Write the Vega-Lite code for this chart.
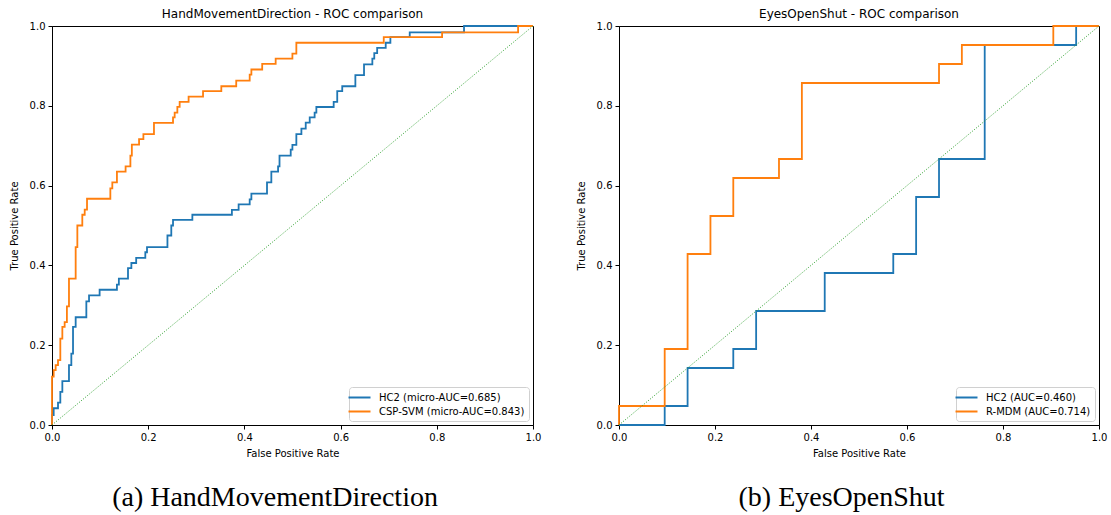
{
  "$schema": "https://vega.github.io/schema/vega-lite/v6.json",
  "padding": {"left": 8, "top": 7, "right": 5, "bottom": 0},
  "background": "#ffffff",
  "datasets": {
    "hmd": [
      {"model": "HC2 (micro-AUC=0.685)", "fpr": 0, "tpr": 0},
      {"model": "HC2 (micro-AUC=0.685)", "fpr": 0, "tpr": 0.025},
      {"model": "HC2 (micro-AUC=0.685)", "fpr": 0.0035, "tpr": 0.042},
      {"model": "HC2 (micro-AUC=0.685)", "fpr": 0.0125, "tpr": 0.056},
      {"model": "HC2 (micro-AUC=0.685)", "fpr": 0.0173, "tpr": 0.083},
      {"model": "HC2 (micro-AUC=0.685)", "fpr": 0.0215, "tpr": 0.11},
      {"model": "HC2 (micro-AUC=0.685)", "fpr": 0.0353, "tpr": 0.15},
      {"model": "HC2 (micro-AUC=0.685)", "fpr": 0.0402, "tpr": 0.179},
      {"model": "HC2 (micro-AUC=0.685)", "fpr": 0.0437, "tpr": 0.246},
      {"model": "HC2 (micro-AUC=0.685)", "fpr": 0.0492, "tpr": 0.27},
      {"model": "HC2 (micro-AUC=0.685)", "fpr": 0.0714, "tpr": 0.31},
      {"model": "HC2 (micro-AUC=0.685)", "fpr": 0.077, "tpr": 0.325},
      {"model": "HC2 (micro-AUC=0.685)", "fpr": 0.099, "tpr": 0.339},
      {"model": "HC2 (micro-AUC=0.685)", "fpr": 0.135, "tpr": 0.352},
      {"model": "HC2 (micro-AUC=0.685)", "fpr": 0.139, "tpr": 0.367},
      {"model": "HC2 (micro-AUC=0.685)", "fpr": 0.158, "tpr": 0.393},
      {"model": "HC2 (micro-AUC=0.685)", "fpr": 0.165, "tpr": 0.406},
      {"model": "HC2 (micro-AUC=0.685)", "fpr": 0.175, "tpr": 0.419},
      {"model": "HC2 (micro-AUC=0.685)", "fpr": 0.194, "tpr": 0.433},
      {"model": "HC2 (micro-AUC=0.685)", "fpr": 0.1975, "tpr": 0.446},
      {"model": "HC2 (micro-AUC=0.685)", "fpr": 0.24, "tpr": 0.475},
      {"model": "HC2 (micro-AUC=0.685)", "fpr": 0.248, "tpr": 0.5},
      {"model": "HC2 (micro-AUC=0.685)", "fpr": 0.2516, "tpr": 0.514},
      {"model": "HC2 (micro-AUC=0.685)", "fpr": 0.2918, "tpr": 0.527},
      {"model": "HC2 (micro-AUC=0.685)", "fpr": 0.374, "tpr": 0.539},
      {"model": "HC2 (micro-AUC=0.685)", "fpr": 0.388, "tpr": 0.553},
      {"model": "HC2 (micro-AUC=0.685)", "fpr": 0.411, "tpr": 0.5655},
      {"model": "HC2 (micro-AUC=0.685)", "fpr": 0.4145, "tpr": 0.58},
      {"model": "HC2 (micro-AUC=0.685)", "fpr": 0.447, "tpr": 0.608},
      {"model": "HC2 (micro-AUC=0.685)", "fpr": 0.456, "tpr": 0.635},
      {"model": "HC2 (micro-AUC=0.685)", "fpr": 0.47, "tpr": 0.648},
      {"model": "HC2 (micro-AUC=0.685)", "fpr": 0.473, "tpr": 0.675},
      {"model": "HC2 (micro-AUC=0.685)", "fpr": 0.4963, "tpr": 0.69},
      {"model": "HC2 (micro-AUC=0.685)", "fpr": 0.4998, "tpr": 0.702},
      {"model": "HC2 (micro-AUC=0.685)", "fpr": 0.508, "tpr": 0.729},
      {"model": "HC2 (micro-AUC=0.685)", "fpr": 0.5185, "tpr": 0.743},
      {"model": "HC2 (micro-AUC=0.685)", "fpr": 0.5275, "tpr": 0.758},
      {"model": "HC2 (micro-AUC=0.685)", "fpr": 0.5358, "tpr": 0.771},
      {"model": "HC2 (micro-AUC=0.685)", "fpr": 0.546, "tpr": 0.783},
      {"model": "HC2 (micro-AUC=0.685)", "fpr": 0.5496, "tpr": 0.797},
      {"model": "HC2 (micro-AUC=0.685)", "fpr": 0.5856, "tpr": 0.81},
      {"model": "HC2 (micro-AUC=0.685)", "fpr": 0.593, "tpr": 0.837},
      {"model": "HC2 (micro-AUC=0.685)", "fpr": 0.6034, "tpr": 0.849},
      {"model": "HC2 (micro-AUC=0.685)", "fpr": 0.6307, "tpr": 0.877},
      {"model": "HC2 (micro-AUC=0.685)", "fpr": 0.6487, "tpr": 0.904},
      {"model": "HC2 (micro-AUC=0.685)", "fpr": 0.666, "tpr": 0.918},
      {"model": "HC2 (micro-AUC=0.685)", "fpr": 0.67, "tpr": 0.932},
      {"model": "HC2 (micro-AUC=0.685)", "fpr": 0.676, "tpr": 0.945},
      {"model": "HC2 (micro-AUC=0.685)", "fpr": 0.6938, "tpr": 0.958},
      {"model": "HC2 (micro-AUC=0.685)", "fpr": 0.7035, "tpr": 0.972},
      {"model": "HC2 (micro-AUC=0.685)", "fpr": 0.7437, "tpr": 0.984},
      {"model": "HC2 (micro-AUC=0.685)", "fpr": 0.8566, "tpr": 1.0},
      {"model": "HC2 (micro-AUC=0.685)", "fpr": 1, "tpr": 1.0},
      {"model": "CSP-SVM (micro-AUC=0.843)", "fpr": 0, "tpr": 0},
      {"model": "CSP-SVM (micro-AUC=0.843)", "fpr": 0, "tpr": 0.121},
      {"model": "CSP-SVM (micro-AUC=0.843)", "fpr": 0.0035, "tpr": 0.1375},
      {"model": "CSP-SVM (micro-AUC=0.843)", "fpr": 0.0076, "tpr": 0.15},
      {"model": "CSP-SVM (micro-AUC=0.843)", "fpr": 0.0125, "tpr": 0.1625},
      {"model": "CSP-SVM (micro-AUC=0.843)", "fpr": 0.0173, "tpr": 0.2167},
      {"model": "CSP-SVM (micro-AUC=0.843)", "fpr": 0.0215, "tpr": 0.246},
      {"model": "CSP-SVM (micro-AUC=0.843)", "fpr": 0.0263, "tpr": 0.258},
      {"model": "CSP-SVM (micro-AUC=0.843)", "fpr": 0.031, "tpr": 0.2975},
      {"model": "CSP-SVM (micro-AUC=0.843)", "fpr": 0.0353, "tpr": 0.367},
      {"model": "CSP-SVM (micro-AUC=0.843)", "fpr": 0.0492, "tpr": 0.446},
      {"model": "CSP-SVM (micro-AUC=0.843)", "fpr": 0.0527, "tpr": 0.5},
      {"model": "CSP-SVM (micro-AUC=0.843)", "fpr": 0.063, "tpr": 0.527},
      {"model": "CSP-SVM (micro-AUC=0.843)", "fpr": 0.068, "tpr": 0.54},
      {"model": "CSP-SVM (micro-AUC=0.843)", "fpr": 0.0728, "tpr": 0.567},
      {"model": "CSP-SVM (micro-AUC=0.843)", "fpr": 0.1213, "tpr": 0.593},
      {"model": "CSP-SVM (micro-AUC=0.843)", "fpr": 0.1254, "tpr": 0.608},
      {"model": "CSP-SVM (micro-AUC=0.843)", "fpr": 0.135, "tpr": 0.635},
      {"model": "CSP-SVM (micro-AUC=0.843)", "fpr": 0.153, "tpr": 0.648},
      {"model": "CSP-SVM (micro-AUC=0.843)", "fpr": 0.163, "tpr": 0.675},
      {"model": "CSP-SVM (micro-AUC=0.843)", "fpr": 0.166, "tpr": 0.7025},
      {"model": "CSP-SVM (micro-AUC=0.843)", "fpr": 0.181, "tpr": 0.7167},
      {"model": "CSP-SVM (micro-AUC=0.843)", "fpr": 0.19, "tpr": 0.729},
      {"model": "CSP-SVM (micro-AUC=0.843)", "fpr": 0.212, "tpr": 0.757},
      {"model": "CSP-SVM (micro-AUC=0.843)", "fpr": 0.2516, "tpr": 0.771},
      {"model": "CSP-SVM (micro-AUC=0.843)", "fpr": 0.255, "tpr": 0.783},
      {"model": "CSP-SVM (micro-AUC=0.843)", "fpr": 0.2606, "tpr": 0.7975},
      {"model": "CSP-SVM (micro-AUC=0.843)", "fpr": 0.2654, "tpr": 0.81},
      {"model": "CSP-SVM (micro-AUC=0.843)", "fpr": 0.284, "tpr": 0.823},
      {"model": "CSP-SVM (micro-AUC=0.843)", "fpr": 0.314, "tpr": 0.837},
      {"model": "CSP-SVM (micro-AUC=0.843)", "fpr": 0.352, "tpr": 0.849},
      {"model": "CSP-SVM (micro-AUC=0.843)", "fpr": 0.383, "tpr": 0.863},
      {"model": "CSP-SVM (micro-AUC=0.843)", "fpr": 0.411, "tpr": 0.878},
      {"model": "CSP-SVM (micro-AUC=0.843)", "fpr": 0.4145, "tpr": 0.891},
      {"model": "CSP-SVM (micro-AUC=0.843)", "fpr": 0.437, "tpr": 0.905},
      {"model": "CSP-SVM (micro-AUC=0.843)", "fpr": 0.465, "tpr": 0.918},
      {"model": "CSP-SVM (micro-AUC=0.843)", "fpr": 0.4998, "tpr": 0.931},
      {"model": "CSP-SVM (micro-AUC=0.843)", "fpr": 0.508, "tpr": 0.958},
      {"model": "CSP-SVM (micro-AUC=0.843)", "fpr": 0.6897, "tpr": 0.972},
      {"model": "CSP-SVM (micro-AUC=0.843)", "fpr": 0.811, "tpr": 0.984},
      {"model": "CSP-SVM (micro-AUC=0.843)", "fpr": 0.969, "tpr": 1.0},
      {"model": "CSP-SVM (micro-AUC=0.843)", "fpr": 1, "tpr": 1.0}
    ],
    "eos": [
      {"model": "HC2 (AUC=0.460)", "fpr": 0, "tpr": 0},
      {"model": "HC2 (AUC=0.460)", "fpr": 0.0952, "tpr": 0.0476},
      {"model": "HC2 (AUC=0.460)", "fpr": 0.1429, "tpr": 0.1429},
      {"model": "HC2 (AUC=0.460)", "fpr": 0.2381, "tpr": 0.1905},
      {"model": "HC2 (AUC=0.460)", "fpr": 0.2857, "tpr": 0.2857},
      {"model": "HC2 (AUC=0.460)", "fpr": 0.4286, "tpr": 0.381},
      {"model": "HC2 (AUC=0.460)", "fpr": 0.5714, "tpr": 0.4286},
      {"model": "HC2 (AUC=0.460)", "fpr": 0.619, "tpr": 0.5714},
      {"model": "HC2 (AUC=0.460)", "fpr": 0.6667, "tpr": 0.6667},
      {"model": "HC2 (AUC=0.460)", "fpr": 0.7619, "tpr": 0.9524},
      {"model": "HC2 (AUC=0.460)", "fpr": 0.9524, "tpr": 1.0},
      {"model": "HC2 (AUC=0.460)", "fpr": 1, "tpr": 1.0},
      {"model": "R-MDM (AUC=0.714)", "fpr": 0, "tpr": 0},
      {"model": "R-MDM (AUC=0.714)", "fpr": 0, "tpr": 0.0476},
      {"model": "R-MDM (AUC=0.714)", "fpr": 0.0952, "tpr": 0.1905},
      {"model": "R-MDM (AUC=0.714)", "fpr": 0.1429, "tpr": 0.4286},
      {"model": "R-MDM (AUC=0.714)", "fpr": 0.1905, "tpr": 0.5238},
      {"model": "R-MDM (AUC=0.714)", "fpr": 0.2381, "tpr": 0.619},
      {"model": "R-MDM (AUC=0.714)", "fpr": 0.3333, "tpr": 0.6667},
      {"model": "R-MDM (AUC=0.714)", "fpr": 0.381, "tpr": 0.8571},
      {"model": "R-MDM (AUC=0.714)", "fpr": 0.6667, "tpr": 0.9048},
      {"model": "R-MDM (AUC=0.714)", "fpr": 0.7143, "tpr": 0.9524},
      {"model": "R-MDM (AUC=0.714)", "fpr": 0.9048, "tpr": 1.0},
      {"model": "R-MDM (AUC=0.714)", "fpr": 1, "tpr": 1.0}
    ],
    "diag": [
      {"fpr": 0, "tpr": 0},
      {"fpr": 1, "tpr": 1}
    ]
  },
  "hconcat": [
    {
      "title": {"text": "(a) HandMovementDirection", "orient": "bottom", "anchor": "middle", "frame": "bounds", "font": "Liberation Serif", "fontSize": 28, "fontWeight": "normal", "color": "#000", "offset": 25},
      "resolve": {"scale": {"color": "independent"}, "legend": {"color": "independent"}},
      "vconcat": [
        {
          "width": 481,
          "height": 399,
          "title": {"text": "HandMovementDirection - ROC comparison", "offset": 0},
          "layer": [
            {
              "data": {"name": "hmd"},
              "mark": {"type": "line", "interpolate": "step-after", "strokeWidth": 1.8},
              "encoding": {
                "x": {"field": "fpr", "type": "quantitative", "scale": {"domain": [0, 1], "nice": false}, "axis": {"title": "False Positive Rate", "values": [0, 0.2, 0.4, 0.6, 0.8, 1], "format": ".1f"}},
                "y": {"field": "tpr", "type": "quantitative", "scale": {"domain": [0, 1], "nice": false}, "axis": {"title": "True Positive Rate", "values": [0, 0.2, 0.4, 0.6, 0.8, 1], "format": ".1f"}},
                "color": {"field": "model", "type": "nominal", "scale": {"domain": ["HC2 (micro-AUC=0.685)", "CSP-SVM (micro-AUC=0.843)"], "range": ["#1f77b4", "#ff7f0e"]}, "legend": {"title": null, "orient": "bottom-right"}},
                "order": [{"field": "fpr"}, {"field": "tpr"}]
              }
            },
            {
              "data": {"name": "diag"},
              "mark": {"type": "line", "color": "#2ca02c", "strokeWidth": 1, "strokeDash": [1, 1.7]},
              "encoding": {
                "x": {"field": "fpr", "type": "quantitative"},
                "y": {"field": "tpr", "type": "quantitative"}
              }
            }
          ]
        }
      ]
    },
    {
      "title": {"text": "(b) EyesOpenShut", "orient": "bottom", "anchor": "middle", "frame": "bounds", "font": "Liberation Serif", "fontSize": 28, "fontWeight": "normal", "color": "#000", "offset": 25},
      "resolve": {"scale": {"color": "independent"}, "legend": {"color": "independent"}},
      "vconcat": [
        {
          "width": 480,
          "height": 399,
          "title": {"text": "EyesOpenShut - ROC comparison", "offset": 0},
          "layer": [
            {
              "data": {"name": "eos"},
              "mark": {"type": "line", "interpolate": "step-after", "strokeWidth": 1.8},
              "encoding": {
                "x": {"field": "fpr", "type": "quantitative", "scale": {"domain": [0, 1], "nice": false}, "axis": {"title": "False Positive Rate", "values": [0, 0.2, 0.4, 0.6, 0.8, 1], "format": ".1f"}},
                "y": {"field": "tpr", "type": "quantitative", "scale": {"domain": [0, 1], "nice": false}, "axis": {"title": "True Positive Rate", "values": [0, 0.2, 0.4, 0.6, 0.8, 1], "format": ".1f"}},
                "color": {"field": "model", "type": "nominal", "scale": {"domain": ["HC2 (AUC=0.460)", "R-MDM (AUC=0.714)"], "range": ["#1f77b4", "#ff7f0e"]}, "legend": {"title": null, "orient": "bottom-right"}},
                "order": [{"field": "fpr"}, {"field": "tpr"}]
              }
            },
            {
              "data": {"name": "diag"},
              "mark": {"type": "line", "color": "#2ca02c", "strokeWidth": 1, "strokeDash": [1, 1.7]},
              "encoding": {
                "x": {"field": "fpr", "type": "quantitative"},
                "y": {"field": "tpr", "type": "quantitative"}
              }
            }
          ]
        }
      ]
    }
  ],
  "spacing": 33,
  "resolve": {"scale": {"color": "independent", "x": "independent", "y": "independent"}, "legend": {"color": "independent"}},
  "config": {
    "font": "DejaVu Sans",
    "view": {"stroke": "#000", "strokeWidth": 1},
    "axis": {"grid": false, "domainColor": "#000", "domainWidth": 1, "tickColor": "#000", "tickWidth": 1, "tickSize": 4, "labelColor": "#000", "titleColor": "#000", "labelFont": "DejaVu Sans", "titleFont": "DejaVu Sans", "labelFontSize": 10, "titleFontSize": 10, "titleFontWeight": "normal", "labelPadding": 3, "labelFlush": false, "labelOverlap": false, "labelBound": false},
    "axisX": {"titlePadding": 6},
    "axisY": {"titlePadding": 10},
    "title": {"font": "DejaVu Sans", "fontSize": 12, "fontWeight": "normal", "color": "#000"},
    "legend": {"offset": 4, "fillColor": "#ffffff", "strokeColor": "#d0d0d0", "cornerRadius": 3, "padding": 4, "labelFont": "DejaVu Sans", "labelFontSize": 10, "labelColor": "#000", "symbolType": "M-2,0L2,0", "symbolSize": 121, "symbolStrokeWidth": 2, "labelOffset": 13, "rowPadding": 2}
  }
}
